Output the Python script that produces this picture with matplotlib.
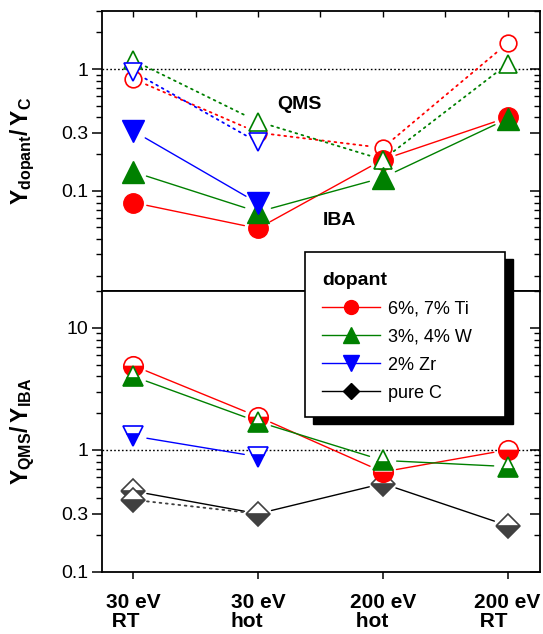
import numpy as np
import matplotlib
matplotlib.use("Agg")
import matplotlib.pyplot as plt
from matplotlib.lines import Line2D
from matplotlib.patches import Rectangle
from matplotlib.ticker import FixedLocator, LogLocator, NullFormatter

plt.rcParams['font.family'] = ['Liberation Sans', 'DejaVu Sans']
plt.rcParams['mathtext.fontset'] = 'custom'
plt.rcParams['mathtext.rm'] = 'Liberation Sans'
plt.rcParams['mathtext.bf'] = 'Liberation Sans:bold'

# Datos
conditions = ['30 eV\n RT', '30 eV\nhot', '200 eV\n hot', '200 eV\n RT']
x_all = [0, 1, 2, 3]
x_zr = [0, 1]

# panel superior: Y_dopant / Y_C
ti_qms = [0.83, 0.30, 0.225, 1.63]
ti_iba = [0.080, 0.049, 0.18, 0.40]
w_qms = [1.18, 0.37, 0.18, 1.10]
w_iba = [0.143, 0.067, 0.128, 0.39]
zr_qms = [0.95, 0.25]
zr_iba = [0.31, 0.079]

# panel inferior: Y_QMS / Y_IBA
ti_ratio = [4.9, 1.87, 0.66, 1.0]
w_ratio = [4.0, 1.7, 0.82, 0.73]
zr_ratio = [1.3, 0.88]
c_ratio = [0.46, 0.30, 0.53, 0.24]
c_ratio_alt = [0.39, 0.30]

labels = ['6%, 7% Ti', '3%, 4% W', '2% Zr', 'pure C']

RED, GREEN, BLUE, GREY = '#ff0000', '#008000', '#0000ff', '#404040'
DOTS = (0, (1, 2.5))


def connect(ax, xs, ys, color, ls='-', gap=10):
    """Segmentos con hueco alrededor de los marcadores (estilo SigmaPlot)."""
    for i in range(len(xs) - 1):
        ax.annotate('', xy=(xs[i + 1], ys[i + 1]), xytext=(xs[i], ys[i]),
                    arrowprops=dict(arrowstyle='-', color=color, lw=1.0 if ls == '-' else 1.3,
                                    linestyle=ls, shrinkA=gap, shrinkB=gap))


def style_axis(ax, ylim, yticks, yticklabels):
    ax.set_yscale('log')
    ax.set_ylim(*ylim)
    ax.set_xlim(-0.25, 3.26)
    ax.yaxis.set_major_locator(FixedLocator(yticks))
    ax.set_yticklabels(yticklabels)
    ax.yaxis.set_minor_locator(LogLocator(base=10, subs=np.arange(2, 10)))
    ax.yaxis.set_minor_formatter(NullFormatter())
    ax.tick_params(axis='y', which='major', direction='out', length=7, width=1.1,
                   labelsize=14, pad=3)
    ax.tick_params(axis='y', which='minor', direction='out', length=4, width=1.0)
    for sp in ax.spines.values():
        sp.set_linewidth(1.3)
    ax.axhline(1, color='black', lw=1.0, ls=(0, (1.2, 1.6)), zorder=1)
    # eje derecho con ticks hacia dentro
    axr = ax.twinx()
    axr.set_yscale('log')
    axr.set_ylim(*ylim)
    axr.yaxis.set_major_locator(FixedLocator(yticks))
    axr.yaxis.set_minor_locator(LogLocator(base=10, subs=np.arange(2, 10)))
    axr.yaxis.set_major_formatter(NullFormatter())
    axr.yaxis.set_minor_formatter(NullFormatter())
    axr.tick_params(axis='y', which='major', direction='in', length=7, width=1.1)
    axr.tick_params(axis='y', which='minor', direction='in', length=4, width=1.0)
    for sp in axr.spines.values():
        sp.set_visible(False)
    return axr


fig = plt.figure(figsize=(5.43, 6.34), dpi=100)
W, H = 543, 634
left, right = 102 / W, 540 / W
ax1 = fig.add_axes([left, (H - 291) / H, right - left, 280 / H])
ax2 = fig.add_axes([left, (H - 572) / H, right - left, 281 / H])

axr1 = style_axis(ax1, (0.015, 3), [0.1, 0.3, 1], ['0.1', '0.3', '1'])
axr2 = style_axis(ax2, (0.1, 20), [0.1, 0.3, 1, 10], ['0.1', '0.3', '1', '10'])

# eje x superior: ticks arriba hacia dentro
ax1.xaxis.set_major_locator(FixedLocator(x_all))
ax1.xaxis.set_minor_locator(FixedLocator([0.5, 1.5, 2.5]))
ax1.tick_params(axis='x', which='both', bottom=False, top=True, labelbottom=False,
                direction='in', length=4, width=1.0)

# eje x inferior
ax2.set_xticks(x_all)
ax2.set_xticklabels(conditions, fontsize=15, fontweight='bold', linespacing=1.0,
                    multialignment='left')
ax2.tick_params(axis='x', which='major', direction='out', length=5, width=1.1, pad=10,
                top=False)
ax2.tick_params(axis='x', which='minor', bottom=False, top=False)

# --- panel superior ---
connect(ax1, x_all, ti_qms, RED, ls=DOTS)
connect(ax1, x_all, ti_iba, RED)
connect(ax1, x_all, w_qms, GREEN, ls=DOTS)
connect(ax1, x_all, w_iba, GREEN)
connect(ax1, x_zr, zr_qms, BLUE, ls=DOTS)
connect(ax1, x_zr, zr_iba, BLUE)

ax1.plot(x_all, ti_qms, 'o', ms=12, mfc='white', mec=RED, mew=1.2, zorder=4)
ax1.plot(x_all, ti_iba, 'o', ms=14, mfc=RED, mec=RED, zorder=5)
ax1.plot(x_all, w_qms, '^', ms=13, mfc='white', mec=GREEN, mew=1.2, zorder=6)
ax1.plot(x_all, w_iba, '^', ms=16, mfc=GREEN, mec=GREEN, zorder=7)
ax1.plot(x_zr, zr_qms, 'v', ms=13, mfc='white', mec=BLUE, mew=1.2, zorder=8)
ax1.plot(x_zr, zr_iba, 'v', ms=16, mfc=BLUE, mec=BLUE, zorder=9)

ax1.text(1.336, 0.507, 'QMS', fontsize=14, fontweight='bold', ha='center', va='center')
ax1.text(1.656, 0.0568, 'IBA', fontsize=14, fontweight='bold', ha='center', va='center')

ax1.set_ylabel(r'$\mathbf{Y}_{\mathbf{dopant}}\mathbf{/}\,\mathbf{Y}_{\mathbf{C}}$', fontsize=16.5)
ax1.yaxis.set_label_coords(-0.148, 0.5)

# --- panel inferior ---
connect(ax2, x_all, ti_ratio, RED)
connect(ax2, x_all, w_ratio, GREEN)
connect(ax2, x_zr, zr_ratio, BLUE)
connect(ax2, x_all, c_ratio, 'black')
connect(ax2, x_zr, c_ratio_alt, GREY, ls=DOTS)

half = dict(fillstyle='bottom', markerfacecoloralt='white', mew=1.2)
ax2.plot(x_all, c_ratio, 'D', ms=12, mfc=GREY, mec=GREY, zorder=4, **half)
ax2.plot(x_zr[:1], c_ratio_alt[:1], 'D', ms=12, mfc=GREY, mec=GREY, zorder=4, **half)
ax2.plot(x_all, ti_ratio, 'o', ms=14, mfc=RED, mec=RED, zorder=5, **half)
ax2.plot(x_all, w_ratio, '^', ms=15, mfc=GREEN, mec=GREEN, zorder=6, **half)
ax2.plot(x_zr, zr_ratio, 'v', ms=15, mfc=BLUE, mec=BLUE, zorder=7, **half)

ax2.set_ylabel(r'$\mathbf{Y}_{\mathbf{QMS}}\mathbf{/}\,\mathbf{Y}_{\mathbf{IBA}}$', fontsize=16.5)
ax2.yaxis.set_label_coords(-0.148, 0.5)

# --- leyenda: marco y sombra dibujados aparte (px desde arriba-izquierda) ---
box_x0, box_y0, box_x1, box_y1 = 305, 252, 505, 417
box_w, box_h = (box_x1 - box_x0) / W, (box_y1 - box_y0) / H
fig.add_artist(Rectangle(((box_x0 + 8) / W, (H - box_y1 - 7) / H), box_w, box_h,
                         transform=fig.transFigure, facecolor='black', edgecolor='black',
                         zorder=4.4))
fig.add_artist(Rectangle((box_x0 / W, (H - box_y1) / H), box_w, box_h,
                         transform=fig.transFigure, facecolor='white', edgecolor='black',
                         lw=1.2, zorder=4.6))

handles = [
    Line2D([], [], color=RED, lw=1, marker='o', ms=10, mfc=RED, mec=RED),
    Line2D([], [], color=GREEN, lw=1, marker='^', ms=11, mfc=GREEN, mec=GREEN),
    Line2D([], [], color=BLUE, lw=1, marker='v', ms=11, mfc=BLUE, mec=BLUE),
    Line2D([], [], color='black', lw=1, marker='D', ms=8, mfc='black', mec='black'),
]
leg = fig.legend(handles, labels, title='dopant', loc='upper left',
                 bbox_to_anchor=(322 / W, 1 - 272 / H), borderaxespad=0, borderpad=0,
                 frameon=False, fontsize=13,
                 title_fontproperties={'weight': 'bold', 'size': 14}, alignment='left',
                 handlelength=3.2, handletextpad=0.45, labelspacing=0.62)
leg.set_zorder(5)

fig.savefig('out.png', dpi=100)
